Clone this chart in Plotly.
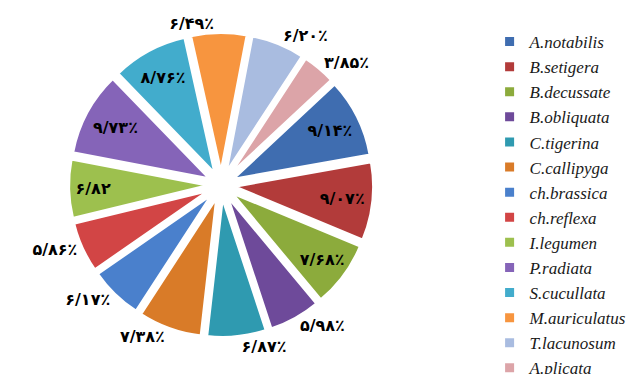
import plotly.graph_objects as go

species = ["A.notabilis", "B.setigera", "B.decussate", "B.obliquata", "C.tigerina",
           "C.callipyga", "ch.brassica", "ch.reflexa", "I.legumen", "P.radiata",
           "S.cucullata", "M.auriculatus", "T.lacunosum", "A.plicata"]
percent = [9.14, 9.07, 7.68, 5.98, 6.87, 7.38, 6.17, 5.86, 6.82, 9.73, 8.76, 6.49, 6.20, 3.85]
labels_fa = ["۹/۱۴٪", "۹/۰۷٪", "۷/۶۸٪", "۵/۹۸٪", "۶/۸۷٪", "۷/۳۸٪", "۶/۱۷٪",
             "۵/۸۶٪", "۶/۸۲", "۹/۷۳٪", "۸/۷۶٪", "۶/۴۹٪", "۶/۲۰٪", "۳/۸۵٪"]
text_pos = ["inside", "inside", "inside", "outside", "outside", "outside", "outside",
            "outside", "inside", "inside", "inside", "outside", "outside", "outside"]
colors = ["#3F6DB0", "#B23B3A", "#8CAB3C", "#6E4A9A", "#2F9AB0", "#D97B28", "#4A80CC",
          "#D24545", "#9DC04E", "#8564B8", "#42ACCC", "#F7953F", "#A9BCE0", "#DCA4A8"]

font_txt = dict(family="DejaVu Sans", size=16, color="black", weight="bold")

fig = go.Figure(go.Pie(
    labels=species,
    values=percent,
    text=labels_fa,
    textinfo="text",
    textposition=text_pos,
    insidetextorientation="horizontal",
    sort=False,
    direction="clockwise",
    rotation=47,
    pull=0.09,
    marker=dict(colors=colors, line=dict(color="white", width=3)),
    textfont=font_txt,
    insidetextfont=font_txt,
    outsidetextfont=font_txt,
    domain=dict(x=[0.107, 0.584], y=[0.0975, 0.913]),
    hoverinfo="label+percent",
))

fig.update_layout(
    width=640, height=374,
    margin=dict(l=0, r=0, t=0, b=0, autoexpand=False),
    paper_bgcolor="white",
    plot_bgcolor="white",
    showlegend=True,
    legend=dict(
        x=0.765, y=1 - 24 / 374, xanchor="left", yanchor="top",
        font=dict(family="Liberation Serif", size=17, color="#1a1a1a", style="italic"),
        tracegroupgap=0,
        itemwidth=30,
        borderwidth=0,
    ),
)

fig.write_html("out.html")
